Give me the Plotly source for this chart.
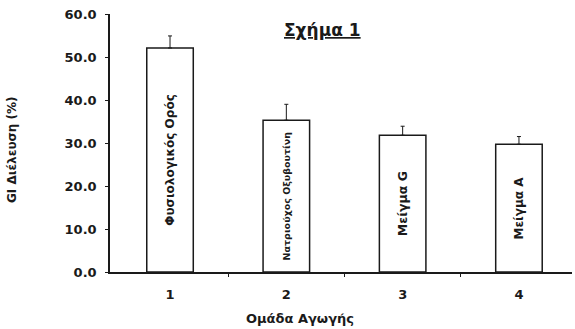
import plotly.graph_objects as go

# Treatment groups and mean GI transit (%) with error
groups = [1, 2, 3, 4]
group_labels = ["Φυσιολογικός Ορός", "Νατριούχος Οξυβουτίνη", "Μείγμα G", "Μείγμα Α"]
transit = [52.1, 35.3, 31.8, 29.7]
transit_err = [2.8, 3.7, 2.1, 1.8]
y_ticks = [0, 10, 20, 30, 40, 50, 60]
y_tick_text = ["0.0", "10.0", "20.0", "30.0", "40.0", "50.0", "60.0"]

FONT = "DejaVu Sans"
INK = "#1a1a1a"


def b(s):
    return f"<b>{s}</b>"


fig = go.Figure()
fig.add_trace(go.Bar(
    x=groups,
    y=transit,
    width=0.4,
    marker=dict(color="white", line=dict(color=INK, width=1.5)),
    error_y=dict(type="data", array=transit_err, symmetric=False,
                 arrayminus=[0] * len(transit_err),
                 color=INK, thickness=1, width=2),
    text=[b(t) for t in group_labels],
    textposition="inside",
    insidetextanchor="middle",
    textangle=-90,
    constraintext="none",
    insidetextfont=dict(family=FONT, size=[12, 9.5, 12.5, 12], color=INK),
    hoverinfo="skip",
))

fig.update_layout(
    width=575, height=329,
    margin=dict(l=110, r=3, t=14, b=57),
    paper_bgcolor="white", plot_bgcolor="white",
    showlegend=False,
    font=dict(family=FONT, color=INK),
    xaxis=dict(
        range=[0.484, 4.456],
        tickmode="array", tickvals=groups, ticktext=[b(g) for g in groups],
        ticks="", showgrid=False, zeroline=False,
        showline=True, linecolor=INK, linewidth=1.5,
        tickfont=dict(family=FONT, size=13, color=INK),
        ticklabelstandoff=10,
        minor=dict(tickmode="array", tickvals=[1.5, 2.5, 3.5], ticks="outside",
                   ticklen=3, tickcolor=INK, showgrid=False),
    ),
    yaxis=dict(
        range=[0, 60],
        tickmode="array", tickvals=y_ticks, ticktext=[b(t) for t in y_tick_text],
        ticks="outside", ticklen=3, tickcolor=INK,
        showgrid=False, zeroline=False,
        showline=True, linecolor=INK, linewidth=1.5,
        tickfont=dict(family=FONT, size=13, color=INK),
        ticklabelstandoff=6,
    ),
    annotations=[
        dict(text="<u><b>Σχήμα 1</b></u>", xref="paper", yref="paper",
             x=0.459, y=0.938, xanchor="center", yanchor="middle",
             showarrow=False, font=dict(family=FONT, size=17, color=INK)),
        dict(text=b("GI Διέλευση (%)"), xref="paper", yref="paper",
             x=-0.212, y=0.473, xanchor="center", yanchor="middle",
             textangle=-90, showarrow=False,
             font=dict(family=FONT, size=12, color=INK)),
        dict(text=b("Ομάδα Αγωγής"), xref="paper", yref="paper",
             x=0.411, y=-0.18, xanchor="center", yanchor="middle",
             showarrow=False, font=dict(family=FONT, size=13, color=INK)),
    ],
)

fig.write_html("out.html")
